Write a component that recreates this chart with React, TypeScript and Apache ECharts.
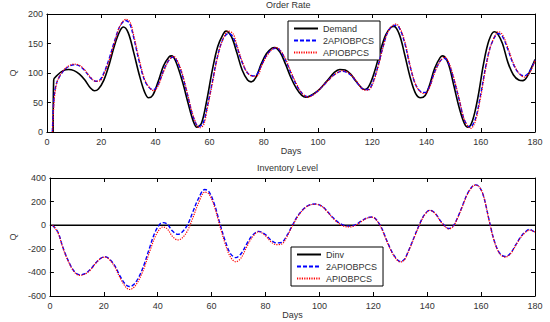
import React, { useEffect, useRef } from "react";
import * as echarts from "echarts";

const demandDays = [2.3,2.5,4,6,8,10,12,14,16,17.5,19,21,23,25,27,28.2,30,32,34,36,37.5,39,41,43,45,46,47.5,50,52,54,55.3,57,59,61,63,65,66,68,70,72,74,75.3,77,79,81,83,84,86,88,90,92,94,95.5,97,100,103,106,108,110,112,114,116,117.3,119,121,123,125,127,128,130,132,134,136,137.8,139.5,141,143,145,146,148,150,152,154,155.3,157,159,161,163,165,166,168,170,172,174,175.5,177,179,180];
const demandVals = [0,88,97,104,106,104,98,88,75,70,73,88,115,148,172,178,168,135,98,68,58,62,85,112,127,129,120,85,50,18,8,15,55,105,145,166,171,162,135,105,88,85,92,115,133,142,143,135,115,92,74,62,59,61,70,85,101,106,105,98,86,75,72,80,105,138,165,178,179,165,130,92,65,58,62,78,108,126,129,116,80,42,14,8,20,60,115,155,170,168,150,118,97,88,87,93,112,123];

const orderDays2A = [2,2.5,3,4,6,8,10,12,14,16,18,19.5,21,23,25,27,29,30.5,32,34,36,38,39.5,41,43,45,46.5,48,50,52,54,56,57.5,59,61,63,65,67,68.5,70,72,74,76,77.5,79,81,83,84.5,86,88,90,92,94,96,98,100,103,106,109,111,113,115,117,118.5,120,122,124,126,128.5,130,132,134,136,138,139.5,141,143,145,146.5,148,150,152,154,156,158,160,162,164,166.5,168,170,172,174,176,178,180];
const orderVals2A = [0,50,72,88,103,111,114,112,104,92,86,88,100,125,155,180,189,184,160,120,88,74,72,80,104,122,127,120,95,60,25,9,14,40,85,130,158,167,162,145,118,100,95,98,112,130,140,142,138,122,100,80,66,60,63,70,84,97,103,100,92,80,72,72,82,110,145,172,181,176,150,110,80,68,67,76,102,120,125,118,90,55,20,8,22,65,115,150,167,162,140,115,100,95,103,122];

const orderDaysA = [2.1,2.6,3.1,4,6,8,10,12,14,16,18,19.7,21,23,25,27,29.2,30.7,32,34,36,38,39.5,41,43,45,46.7,48,50,52,54,56.3,57.8,59,61,63,65,67,68.7,70,72,74,76.5,78,79,81,83,84.5,86,88,90,92,94,96.5,98,100,103,106,109,111,113,115,117,118.5,120,122,124,126,128.7,130,132,134,136,138,139.5,141,143,145,146.7,148,150,152,154,156.3,158,160,162,164,166.7,168,170,172,174,176,178,180];
const orderValsA = [0,48,70,88,104,112,115,113,105,93,86,87,98,122,153,180,191,186,164,124,90,74,70,78,102,122,128,122,98,62,27,7,12,36,82,128,158,171,166,148,120,100,94,97,110,128,140,143,139,124,102,82,66,59,62,70,84,97,104,101,93,81,71,71,80,108,144,172,183,178,153,112,80,67,65,74,100,120,127,120,93,57,20,6,18,60,112,150,170,165,143,117,100,93,100,121];

const invDays = [0,180];
const invVals = [0,0];

const inv2ADays = [1,3,5,7,9,11,13,15,17,19,20.5,22,24,26,28,29.5,31,33,35,37,39,41,42,43.5,45.5,47.5,49,51,53,55,57.5,59,61,63,65,67,69,71,73,75,77.5,80,82,84,86,88,90,92,94,96,98.5,101,103,105,107,109,111.5,113.5,115.5,117.5,119.5,121,123,125,127,129,130,131.5,133,135,137,139,141,143,145,147,148,149.5,151,153,155,157,158,159.5,161,163,165,167,169,171,173,175,177,178,179,180];
const inv2AVals = [0,-60,-200,-310,-390,-420,-410,-375,-320,-278,-268,-285,-340,-430,-500,-520,-505,-440,-330,-190,-60,15,22,10,-50,-78,-60,0,110,220,303,285,180,20,-130,-240,-275,-240,-160,-90,-52,-80,-125,-150,-145,-85,0,80,135,168,180,160,115,65,25,0,-8,5,35,60,70,50,-20,-130,-230,-295,-308,-290,-220,-110,0,90,127,100,35,-15,-28,-10,50,160,270,335,342,320,240,40,-140,-240,-265,-235,-160,-90,-45,-35,-45,-62];

const invADays = inv2ADays;
const invAVals = [0,-65,-205,-315,-395,-425,-415,-380,-322,-280,-270,-290,-350,-445,-520,-545,-530,-465,-360,-225,-100,-25,-15,-30,-95,-125,-110,-50,60,180,280,265,160,0,-155,-270,-310,-275,-185,-105,-55,-90,-140,-165,-160,-95,-5,75,132,167,178,158,112,60,18,-8,-15,0,30,58,68,48,-25,-135,-235,-300,-312,-295,-225,-115,-5,85,125,97,30,-20,-32,-15,45,155,265,333,340,320,240,35,-145,-245,-270,-240,-165,-95,-50,-42,-48,-58];

const xTicks = [0, 20, 40, 60, 80, 100, 120, 140, 160, 180];
const topYTicks = [0, 50, 100, 150, 200];
const bottomYTicks = [-600, -400, -200, 0, 200, 400];

const zip = (xs: number[], ys: number[]) => xs.map((x, i) => [x, ys[i]]);

const FONT = "Liberation Sans, Arial, sans-serif";
const LABEL = { color: "#333", fontSize: 9, fontFamily: FONT };

export default function App() {
  const ref = useRef<HTMLDivElement>(null);
  useEffect(() => {
    if (!ref.current) return;
    const chart = echarts.init(ref.current, undefined, { renderer: "svg" });
    const grids = [
      { left: 37, right: 15, top: 14, height: 118 },
      { left: 37, right: 15, top: 178, height: 118 },
    ];
    const xBase = (gi: number, pos: "bottom" | "top") => ({
      type: "value",
      gridIndex: gi,
      position: pos,
      min: xTicks[0],
      max: xTicks[xTicks.length - 1],
      interval: 20,
      axisLine: { show: true, onZero: false, lineStyle: { color: "#000", width: 1 } },
      axisTick: { show: true, inside: true, length: 4, lineStyle: { color: "#000" } },
      axisLabel: pos === "bottom" ? { ...LABEL, margin: 5 } : { show: false },
      splitLine: { show: false },
      name: pos === "bottom" ? "Days" : "",
      nameLocation: "middle",
      nameGap: 14,
      nameTextStyle: { ...LABEL },
    });
    const yBase = (gi: number, pos: "left" | "right", ticks: number[]) => ({
      type: "value",
      gridIndex: gi,
      position: pos,
      min: ticks[0],
      max: ticks[ticks.length - 1],
      interval: ticks[1] - ticks[0],
      axisLine: { show: true, onZero: false, lineStyle: { color: "#000", width: 1 } },
      axisTick: { show: true, inside: true, length: 4, lineStyle: { color: "#000" } },
      axisLabel: pos === "left" ? { ...LABEL, margin: 4 } : { show: false },
      splitLine: { show: false },
      name: pos === "left" ? "Q" : "",
      nameLocation: "middle",
      nameGap: 27,
      nameRotate: 90,
      nameTextStyle: { ...LABEL },
    });
    const line = (name: string, data: number[][], xi: number, yi: number, color: string, type: any, width: number, z: number) => ({
      type: "line",
      name,
      data,
      xAxisIndex: xi,
      yAxisIndex: yi,
      showSymbol: false,
      symbol: "none",
      smooth: 0.35,
      lineStyle: { color, type, width },
      itemStyle: { color },
      z,
    });
    const legendBase = {
      orient: "vertical",
      backgroundColor: "#fff",
      borderColor: "#000",
      borderWidth: 1,
      borderRadius: 0,
      padding: [3, 6, 3, 5],
      itemWidth: 24,
      itemHeight: 8,
      itemGap: 3,
      itemStyle: { opacity: 0 },
      textStyle: { ...LABEL },
      selectedMode: false,
    };
    chart.setOption({
      animation: false,
      backgroundColor: "#fff",
      title: [
        { text: "Order Rate", left: 266, top: 0, textStyle: { ...LABEL, fontWeight: "normal" }, padding: 0 },
        { text: "Inventory Level", left: 257, top: 163, textStyle: { ...LABEL, fontWeight: "normal" }, padding: 0 },
      ],
      grid: grids,
      xAxis: [xBase(0, "bottom"), xBase(1, "bottom"), xBase(0, "top"), xBase(1, "top")],
      yAxis: [
        yBase(0, "left", topYTicks),
        yBase(1, "left", bottomYTicks),
        yBase(0, "right", topYTicks),
        yBase(1, "right", bottomYTicks),
      ],
      legend: [
        { ...legendBase, left: 288, top: 21, data: ["Demand", "2APIOBPCS", "APIOBPCS"] },
        { ...legendBase, left: 291, top: 247, data: ["Dinv", "2APIOBPCS", "APIOBPCS"] },
      ],
      series: [
        line("Demand", zip(demandDays, demandVals), 0, 0, "#000", "solid", 1.6, 3),
        line("2APIOBPCS", zip(orderDays2A, orderVals2A), 0, 0, "#0000ff", [4, 2], 1.4, 4),
        line("APIOBPCS", zip(orderDaysA, orderValsA), 0, 0, "#ff0000", [1.2, 1.2], 1.2, 5),
        line("Dinv", zip(invDays, invVals), 1, 1, "#000", "solid", 1.4, 3),
        line("2APIOBPCS", zip(inv2ADays, inv2AVals), 1, 1, "#0000ff", [4, 2], 1.4, 4),
        line("APIOBPCS", zip(invADays, invAVals), 1, 1, "#ff0000", [1.2, 1.2], 1.2, 5),
      ],
    });
    return () => chart.dispose();
  }, []);
  return <div ref={ref} style={{ position: "fixed", left: 0, top: 0, width: 550, height: 322 }} />;
}
